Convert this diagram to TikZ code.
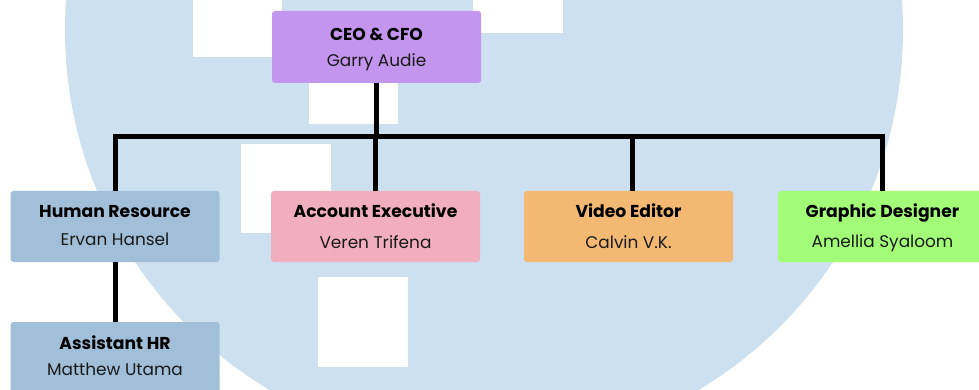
\documentclass[tikz,border=0pt]{standalone}
\usepackage{fontspec}
\setmainfont{Poppins}
\definecolor{bgblue}{RGB}{205,224,239}
\definecolor{ceoc}{RGB}{196,149,238}
\definecolor{hrc}{RGB}{161,191,217}
\definecolor{aec}{RGB}{240,174,190}
\definecolor{vec}{RGB}{243,184,113}
\definecolor{gdc}{RGB}{163,252,120}
\definecolor{txt}{RGB}{25,25,25}
\tikzset{
  box/.style={rectangle, rounded corners=3pt, minimum width=209pt, minimum height=71pt, inner sep=0pt},
  ttl/.style={anchor=base, inner sep=0pt, font=\fontsize{17.2}{20}\selectfont\bfseries, text=black},
  nm/.style={anchor=base, inner sep=0pt, font=\fontsize{16.9}{20}\selectfont, text=txt},
  conn/.style={line width=5pt, black, line join=miter}
}
\begin{document}
\begin{tikzpicture}[x=1pt,y=-1pt]
\useasboundingbox (0,0) rectangle (979,390);
\clip (0,0) rectangle (979,390);
% background
\fill[bgblue] (484,30) circle (419);
\fill[white] (193,-33) rectangle (282,57);
\fill[white] (473,-57) rectangle (563,33);
\fill[white] (309,34) rectangle (398,124);
\fill[white] (241,144) rectangle (331,233);
\fill[white] (318,277) rectangle (408,367);
% boxes
\node[box, fill=ceoc, minimum height=72pt] (ceo) at (376.5,47) {};
\node[box, fill=hrc] (hr) at (115,226.5) {};
\node[box, fill=aec] (ae) at (375.5,226.5) {};
\node[box, fill=vec] (ve) at (628.5,226.5) {};
\node[box, fill=gdc] (gd) at (882.5,226.5) {};
\node[box, fill=hrc] (ahr) at (115,357.5) {};
% connectors
\coordinate (bus) at (0,137);
\draw[conn] (hr.north) -- (hr.north |- bus) -- (gd.north |- bus) -- (gd.north);
\draw[conn] (ceo.south) -- (ceo.south |- bus);
\draw[conn] (ae.north |- bus) -- (ae.north);
\draw[conn] ([xshift=4pt]ve.north |- bus) -- ([xshift=4pt]ve.north);
\draw[conn] (hr.south) -- (ahr.north);
% texts
\node[ttl] (ceot) at (376.5,41) {CEO \& CFO};
\node[nm] (ceon) at (376.5,67) {Garry Audie};
\node[ttl] (hrt) at (115,218) {Human Resource};
\node[nm] (hrn) at (115,245) {Ervan Hansel};
\node[ttl] (aet) at (375.5,218) {Account Executive};
\node[nm] (aen) at (375.5,248) {Veren Trifena};
\node[ttl] (vet) at (628.5,217) {Video Editor};
\node[nm] (ven) at (628.5,248) {Calvin V.K.};
\node[ttl] (gdt) at (882.5,217) {Graphic Designer};
\node[nm] (gdn) at (882.5,247) {Amellia Syaloom};
\node[ttl] (ahrt) at (115,349) {Assistant HR};
\node[nm] (ahrn) at (115,375) {Matthew Utama};
\end{tikzpicture}
\end{document}
